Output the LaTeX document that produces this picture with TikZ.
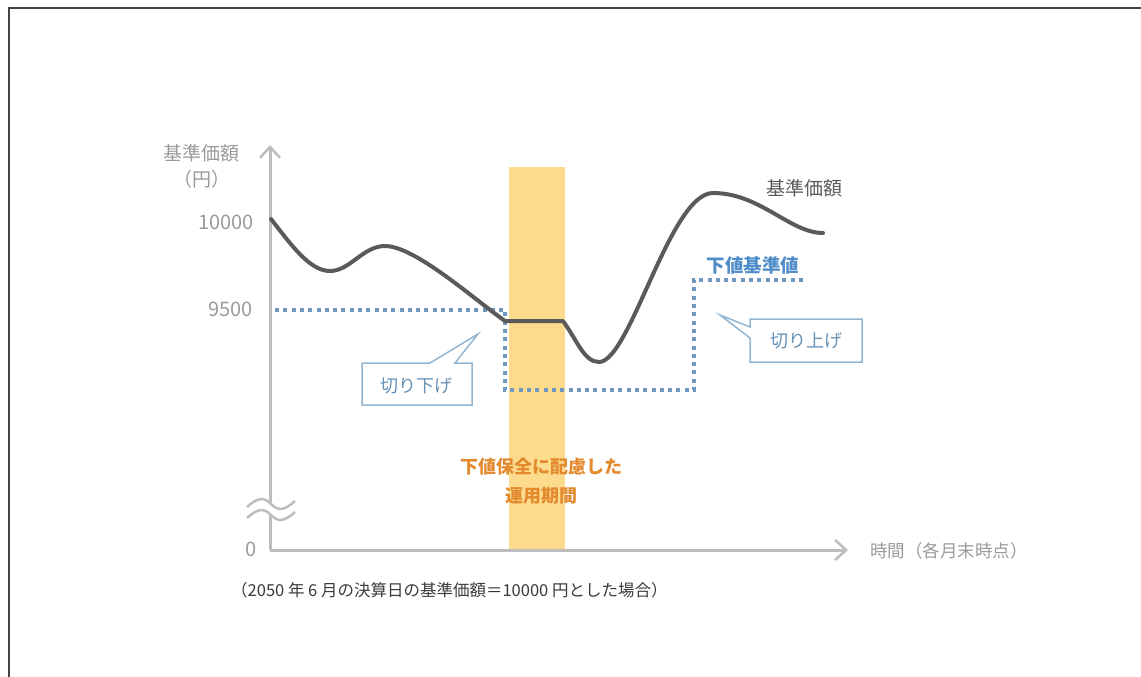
\documentclass[tikz,border=0pt]{standalone}
\usepackage{fontspec}
\setmainfont{Noto Sans CJK JP}
\usetikzlibrary{arrows.meta}
\definecolor{framegray}{HTML}{444444}
\definecolor{axisgray}{HTML}{BDBDBD}
\definecolor{labgray}{HTML}{9A9A9A}
\definecolor{curvegray}{HTML}{5A5A5A}
\definecolor{bandyellow}{HTML}{FDDB8C}
\definecolor{bandorange}{HTML}{E3892E}
\definecolor{dotblue}{HTML}{6E98C0}
\definecolor{txtblue}{HTML}{4F8DC9}
\definecolor{callborder}{HTML}{93B6D2}
\definecolor{calltext}{HTML}{6790B5}
\definecolor{captiongray}{HTML}{3A3A3A}
\tikzset{
  axisline/.style={draw=axisgray, line width=3pt, -{Straight Barb[length=11pt,width=20pt,line width=2.5pt]}},
  axislabel/.style={text=labgray, font=\fontsize{19}{22}\selectfont, inner sep=0pt},
  numlabel/.style={text=labgray, font=\fontsize{20}{23}\selectfont, inner sep=0pt, anchor=east},
  curveline/.style={draw=curvegray, line width=4pt, line join=round, line cap=round},
  dotline/.style={draw=dotblue, line width=3.2pt, dash pattern=on 4pt off 4.3pt},
  callbox/.style={draw=callborder, line width=1.5pt, fill=white, line join=miter},
  calllabel/.style={text=calltext, font=\fontsize{18}{21}\selectfont, inner sep=0pt},
  bandlabel/.style={text=bandorange, font=\fontsize{18}{21}\selectfont\bfseries, inner sep=0pt},
  breakwave/.style={draw=axisgray, line width=2.5pt}
}
\begin{document}
\begin{tikzpicture}[x=1pt,y=-1pt]
\useasboundingbox (0,0) rectangle (1141,677);
% frame
\draw[framegray, line width=2pt] (9,677) -- (9,8) -- (1141,8);
% band
\fill[bandyellow] (509,167) rectangle (565,550);
% axes
\coordinate (origin) at (270,550);
\coordinate (ytip) at (270,145);
\coordinate (xtip) at (848,550);
\draw[axisline] (origin) -- (ytip);
\draw[axisline] (origin) -- (xtip);
% break mark
\fill[white] (247,507) .. controls (258,497) and (264,497) .. (271,504) .. controls (278,511) and (284,511) .. (295,501)
  -- (295,512) .. controls (284,522) and (278,522) .. (271,515) .. controls (264,508) and (258,508) .. (247,518) -- cycle;
\draw[breakwave] (247,507) .. controls (258,497) and (264,497) .. (271,504) .. controls (278,511) and (284,511) .. (295,501);
\draw[breakwave] (247,518) .. controls (258,508) and (264,508) .. (271,515) .. controls (278,522) and (284,522) .. (295,512);
% axis labels
\node[axislabel] (ylab1) at (201,153) {基準価額};
\node[axislabel] (ylab2) at (202,179) {（円）};
\node[numlabel] (t10000) at (254,222) {10000};
\node[numlabel] (t9500) at (253,309) {9500};
\node[numlabel] (t0) at (257,549) {0};
\node[axislabel, anchor=west, font=\fontsize{17.5}{20}\selectfont] (xlab) at (870,551) {時間（各月末時点）};
% dotted floor line
\coordinate (d0) at (275,310);
\coordinate (d1) at (505,310);
\coordinate (d2) at (505,390);
\coordinate (d3) at (694,390);
\coordinate (d4) at (694,280);
\coordinate (d5) at (805,280);
\draw[dotline] (d0) -- (d1) -- (d2) -- (d3) -- (d4) -- (d5);
% NAV curve
\coordinate (c0) at (271,219);
\coordinate (c1) at (330,271);
\coordinate (c2) at (385,246);
\coordinate (c3) at (505,321);
\coordinate (c4) at (563,321);
\coordinate (c5) at (599,362);
\coordinate (c6) at (713,193);
\coordinate (c7) at (823,233);
\draw[curveline] (c0) .. controls (292,246) and (310,271) .. (c1)
  .. controls (350,271) and (363,246) .. (c2)
  .. controls (415,246) and (475,300) .. (c3)
  -- (c4)
  .. controls (577,340) and (584,362) .. (c5)
  .. controls (630,362) and (670,193) .. (c6)
  .. controls (760,193) and (790,233) .. (c7);
% labels
\node[text=curvegray, font=\fontsize{19}{22}\selectfont, inner sep=0pt] (navlab) at (804,188) {基準価額};
\node[text=txtblue, font=\fontsize{18.5}{21}\selectfont\bfseries, inner sep=0pt] (floorlab) at (753,265) {下値基準値};
% band text
\node[bandlabel] (band1) at (541,467) {下値保全に配慮した};
\node[bandlabel] (band2) at (541,496) {運用期間};
% callouts
\draw[callbox] (362,363) -- (430,363) -- (478,334) -- (455,363) -- (472,363) -- (472,405) -- (362,405) -- cycle;
\node[calllabel] (down) at (416,386) {切り下げ};
\draw[callbox] (750,319) -- (862,319) -- (862,362) -- (750,362) -- (750,338) -- (720,315) -- (750,327) -- cycle;
\node[calllabel] (up) at (806,341) {切り上げ};
% caption
\node[text=captiongray, font=\fontsize{16.5}{19}\selectfont, inner sep=0pt, anchor=west] (caption) at (231,590) {（2050 年 6 月の決算日の基準価額＝10000 円とした場合）};
\end{tikzpicture}
\end{document}
